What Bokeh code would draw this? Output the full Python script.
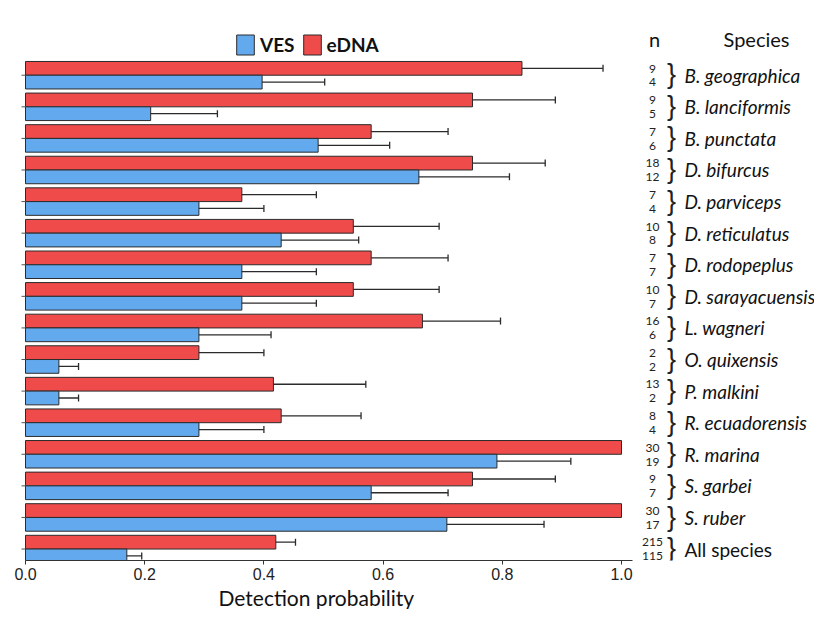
from bokeh.plotting import figure
from bokeh.models import (Range1d, FixedTicker, ColumnDataSource, Whisker, TeeHead,
                          Legend, LegendItem, Title)
from bokeh.core.properties import value
from bokeh.embed import file_html
from bokeh.resources import INLINE

# ---------------- data ----------------
species = ["B. geographica", "B. lanciformis", "B. punctata", "D. bifurcus",
           "D. parviceps", "D. reticulatus", "D. rodopeplus", "D. sarayacuensis",
           "L. wagneri", "O. quixensis", "P. malkini", "R. ecuadorensis",
           "R. marina", "S. garbei", "S. ruber", "All species"]
edna = [0.833, 0.75, 0.58, 0.75, 0.363, 0.55, 0.58, 0.55,
        0.666, 0.291, 0.416, 0.429, 1.0, 0.75, 1.0, 0.42]
edna_lo = [0.689, 0.608, 0.449, 0.633, 0.230, 0.403, 0.449, 0.403,
           0.535, 0.181, 0.290, 0.293, None, 0.608, None, 0.396]
edna_hi = [0.969, 0.889, 0.709, 0.872, 0.488, 0.694, 0.709, 0.694,
           0.797, 0.400, 0.571, 0.563, None, 0.889, None, 0.453]
ves = [0.397, 0.210, 0.491, 0.660, 0.291, 0.429, 0.363, 0.363,
       0.291, 0.056, 0.056, 0.291, 0.791, 0.580, 0.707, 0.170]
ves_lo = [0.277, 0.098, 0.368, 0.511, 0.188, 0.280, 0.230, 0.230,
          0.169, 0.020, 0.020, 0.188, 0.661, 0.449, 0.543, 0.139]
ves_hi = [0.502, 0.322, 0.611, 0.812, 0.400, 0.559, 0.488, 0.488,
          0.412, 0.089, 0.089, 0.400, 0.915, 0.709, 0.870, 0.195]
n_edna = [9, 9, 7, 18, 7, 10, 7, 10, 16, 2, 13, 8, 30, 9, 30, 215]
n_ves = [4, 5, 6, 12, 4, 8, 7, 7, 6, 2, 2, 4, 19, 7, 17, 115]
x_ticks = [0.0, 0.2, 0.4, 0.6, 0.8, 1.0]

# ---------------- layout constants ----------------
RED = "#EF4B4B"
BLUE = "#63A9EE"
DARK = "#2b2b2b"
FONT = "Lato"
W, H = 814, 609
PX_PER_X = 596.0          # pixels per unit of probability
PX_PER_ROW = 31.7         # pixels per species row
BAR_H = 13.8 / PX_PER_ROW
LEFT_BORDER = 20
BOTTOM_BORDER = 47
ZERO_PX = 25.0            # pixel position of x = 0
FIRST_ROW_PX = 75.0       # pixel position of the first row boundary

nrow = len(species)
ypos = [nrow - 1 - i for i in range(nrow)]
frame_w = W - LEFT_BORDER
frame_h = H - BOTTOM_BORDER
x_start = (LEFT_BORDER - ZERO_PX) / PX_PER_X
x_end = x_start + frame_w / PX_PER_X
y_end = (nrow - 1) + FIRST_ROW_PX / PX_PER_ROW
y_start = y_end - frame_h / PX_PER_ROW


def xpx(px):
    return (px - ZERO_PX) / PX_PER_X


def ypx(py):
    return y_end - py / PX_PER_ROW


p = figure(width=W, height=H, output_backend="svg", toolbar_location=None,
           x_range=Range1d(x_start, x_end), y_range=Range1d(y_start, y_end),
           y_axis_location=None, min_border_left=LEFT_BORDER, min_border_right=0,
           min_border_top=0, min_border_bottom=BOTTOM_BORDER)
p.outline_line_color = None
p.xgrid.visible = False
p.ygrid.visible = False
p.background_fill_color = "white"
p.border_fill_color = "white"

y_red = [y + BAR_H / 2 for y in ypos]
y_blue = [y - BAR_H / 2 for y in ypos]

src_red = ColumnDataSource(dict(y=y_red, v=edna))
src_blue = ColumnDataSource(dict(y=y_blue, v=ves))

r_red = p.hbar(y="y", left=0, right="v", height=BAR_H, source=src_red,
               fill_color=RED, line_color=DARK, line_width=1)
r_blue = p.hbar(y="y", left=0, right="v", height=BAR_H, source=src_blue,
                fill_color=BLUE, line_color=DARK, line_width=1)

# y tick marks at each species boundary
p.segment(x0=-4.0 / PX_PER_X, x1=0, y0=ypos, y1=ypos, line_color="#555555", line_width=1)

# error bars
er = [(y, lo, hi) for y, lo, hi in zip(y_red, edna_lo, edna_hi) if lo is not None]
eb = list(zip(y_blue, ves_lo, ves_hi))
for rows in (er, eb):
    s = ColumnDataSource(dict(y=[r[0] for r in rows], lo=[r[1] for r in rows],
                              hi=[r[2] for r in rows]))
    w = Whisker(source=s, base="y", lower="lo", upper="hi", dimension="width",
                line_color=DARK, line_width=1.3,
                upper_head=TeeHead(size=7, line_color=DARK, line_width=1.3),
                lower_head=TeeHead(size=7, line_color=DARK, line_width=1.3))
    p.add_layout(w)

# right-hand annotations: n values, braces, species names
p.text(x=[xpx(652)] * nrow, y=[y + 0.21 for y in ypos], text=[str(v) for v in n_edna],
       text_align="center", text_baseline="middle", text_font=value(FONT),
       text_font_size="12px", text_color="#222222")
p.text(x=[xpx(652)] * nrow, y=[y - 0.23 for y in ypos], text=[str(v) for v in n_ves],
       text_align="center", text_baseline="middle", text_font=value(FONT),
       text_font_size="12px", text_color="#222222")
p.text(x=[xpx(671)] * nrow, y=[y + 0.03 for y in ypos], text=["}"] * nrow,
       text_align="center", text_baseline="middle", text_font=value("Liberation Sans"),
       text_font_size="27px", text_color="#222222")
p.text(x=[xpx(684)] * (nrow - 1), y=ypos[:-1], text=species[:-1],
       text_align="left", text_baseline="middle", text_font=value(FONT),
       text_font_size="19px", text_font_style="italic", text_color="#111111")
p.text(x=[xpx(684)], y=ypos[-1:], text=species[-1:],
       text_align="left", text_baseline="middle", text_font=value(FONT),
       text_font_size="19px", text_color="#111111")
hdr_y = ypx(39)
p.text(x=[xpx(654), xpx(756)], y=[hdr_y, hdr_y], text=["n", "Species"],
       text_align="center", text_baseline="middle", text_font=value(FONT),
       text_font_size="20px", text_color="#111111")

# x axis
ax = p.xaxis[0]
ax.ticker = FixedTicker(ticks=x_ticks)
ax.major_label_overrides = {t: f"{t:.1f}" for t in x_ticks}
ax.bounds = (0, 1.0185)
ax.minor_tick_line_color = None
ax.major_tick_in = 0
ax.major_tick_out = 4
ax.axis_line_color = "#333333"
ax.major_tick_line_color = "#333333"
ax.major_label_text_font = "Liberation Sans"
ax.major_label_text_font_size = "16px"
ax.major_label_text_color = "#222222"
ax.major_label_standoff = 3

# axis title under the 0..1 axis (left-aligned, offset to sit under x = 0.5)
p.add_layout(Title(text="Detection probability", align="left",
                   offset=218 - LEFT_BORDER, standoff=0,
                   text_font=FONT, text_font_size="21px", text_font_style="normal",
                   text_color="#111111"), "below")

# legend
legend = Legend(items=[LegendItem(label="VES", renderers=[r_blue]),
                       LegendItem(label="eDNA", renderers=[r_red])],
                orientation="horizontal", location=(236 - LEFT_BORDER - 2, frame_h - 59),
                glyph_width=22, glyph_height=25, label_standoff=4, spacing=6,
                padding=0, margin=0, border_line_alpha=0, background_fill_alpha=0,
                label_text_font=FONT, label_text_font_size="19px",
                label_text_font_style="bold", label_text_color="#111111")
p.add_layout(legend)

open("out.html", "w").write(file_html(p, INLINE))
